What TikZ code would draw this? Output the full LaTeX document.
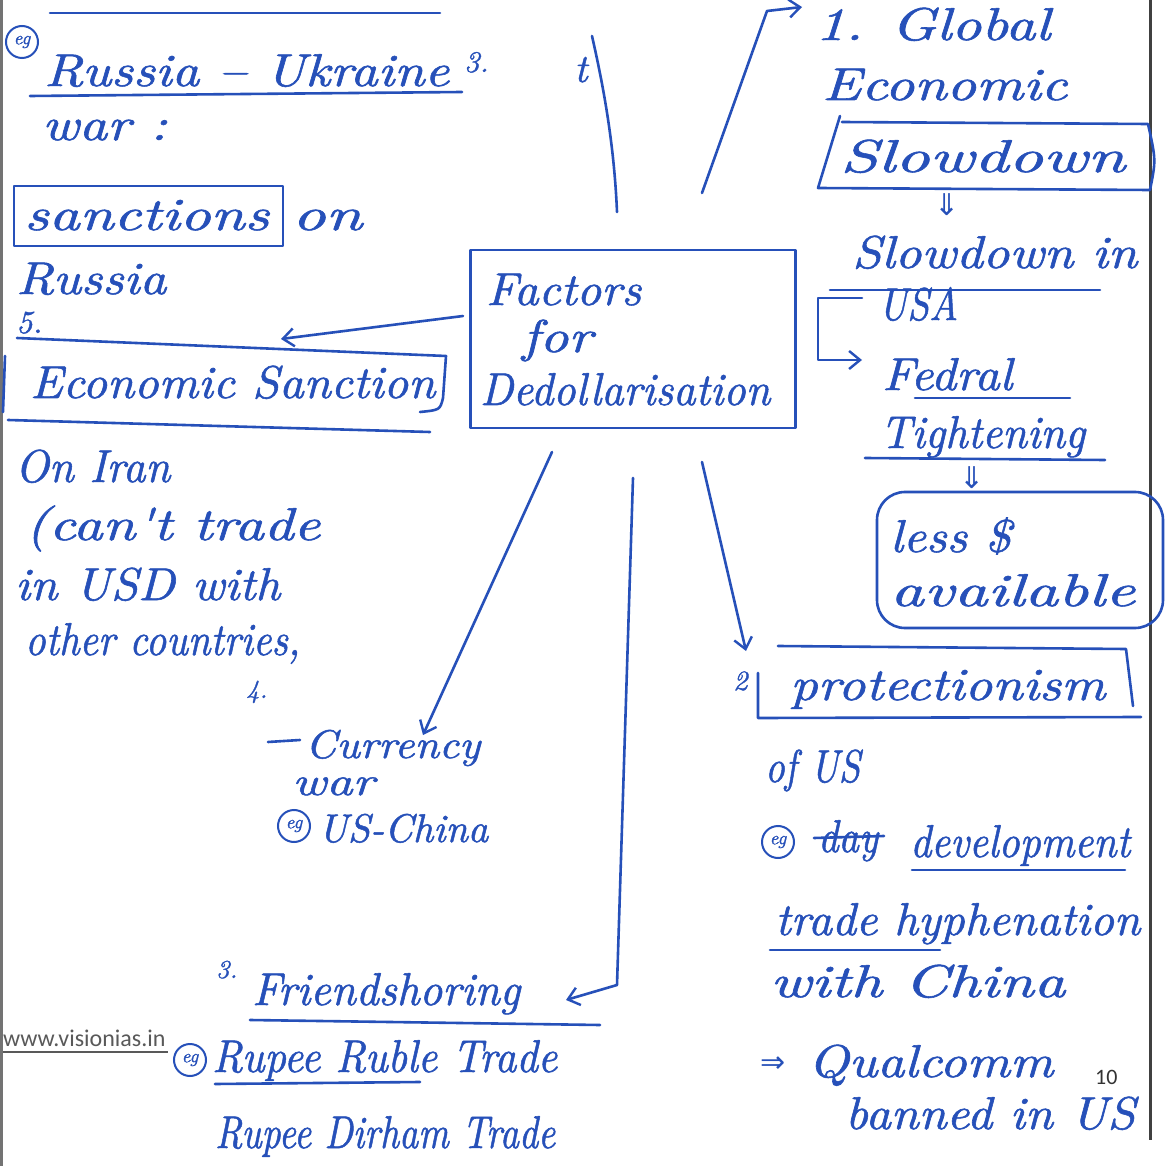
\documentclass[tikz,border=0pt]{standalone}
\usepackage{fontspec}
\usetikzlibrary{arrows.meta}
\newfontfamily\handfont{lmroman10-italic.otf}[FakeBold=1.2]
\newfontfamily\symfont{DejaVu Sans}
\newfontfamily\printfont{Carlito}
\definecolor{ink}{RGB}{38,80,185}
% a handwritten line stretched sideways to a given width, height kept
\newcommand\hw[2]{\resizebox{#1pt}{\height}{#2}}
\newcommand\hs[2]{{\fontsize{#1}{#1}\selectfont #2}}

\begin{document}
\begin{tikzpicture}[x=1pt,y=-1pt,
  pen/.style={draw=ink, line width=2.6pt, line cap=round, line join=round},
  note/.style={text=ink, inner sep=0pt, anchor=base west,
               font=\handfont\fontsize{46}{46}\selectfont},
  small/.style={note, font=\handfont\fontsize{40}{40}\selectfont},
  tip/.style={-{Straight Barb[length=11pt,width=18pt,line width=2.4pt]}},
  egmark/.style={circle, draw=ink, line width=2pt, text=ink, inner sep=0pt,
                 minimum size=32pt, font=\handfont\fontsize{19}{19}\selectfont},
  dbl/.style={text=ink, inner sep=0pt, font=\symfont\fontsize{30}{30}\selectfont},
]
\useasboundingbox (0,0) rectangle (1171,1166);
\fill[white] (0,0) rectangle (1171,1166);

% page edges
\draw[line width=3pt, black!55] (1.5,0) -- (1.5,1166);
\draw[line width=3pt, black!75] (1150,0) -- (1150,1140);

% ---------- centre ----------
\node[pen, minimum width=325pt, minimum height=178pt] (hub) at (633,339) {};
\node[note] (factors) at (486,305) {\hw{155}{Factors}};
\node[note] (for) at (522,352) {\hw{70}{for}};
\node[note] (dedoll) at (480,405) {\hw{290}{Dedollarisation}};

% ---------- top left: Russia-Ukraine war ----------
\draw[pen] (50,13) -- (440,13);
\node[egmark] (eg1) at (22,42) {eg};
\node[note] (ru) at (44,86) {\hw{405}{Russia – Ukraine}};
\draw[pen] (30,96) -- (462,92);
\node[note] (three) at (464,72) {\hs{30}{3.}};
\node[note] (tmark) at (574,82) {\hs{40}{t}};
\node[note] (war) at (42,140) {\hw{125}{war :}};
\draw[pen] (14,186) rectangle (283,246);
\node[note] (sanct) at (24,230) {\hw{245}{sanctions}};
\node[note] (on) at (292,230) {\hw{70}{on}};
\node[note] (russia) at (16,294) {\hw{150}{Russia}};

% ---------- left: 5. Economic sanction ----------
\node[note] (five) at (16,333) {\hs{32}{5.}};
\draw[pen] (17,338) -- (446,356) -- (443,398) .. controls (440,410) .. (420,412);
\draw[pen] (5,356) -- (3,412);
\draw[pen] (8,420) -- (430,432);
\node[note] (econ) at (30,398) {\hw{405}{Economic Sanction}};
\node[note] (iran) at (15,482) {\hw{155}{On Iran}};
\node[note] (cant) at (25,540) {\hw{295}{(can't trade}};
\node[note] (usd) at (15,600) {\hw{265}{in USD with}};
\node[note] (other) at (25,655) {\hw{275}{other countries,}};

% ---------- right: 1. Global economic slowdown ----------
\node[note] (glob) at (815,40) {\hw{235}{1. Global}};
\node[note] (econ2) at (822,100) {\hw{245}{Economic}};
\draw[pen] (840,116) -- (818,188) -- (1150,190) .. controls (1156,160) .. (1148,124) -- (842,122);
\node[note] (slow) at (840,172) {\hw{285}{Slowdown}};
\node[dbl] (dn1) at (947,205) {⇓};
\node[note] (slowin) at (852,268) {\hw{285}{Slowdown in}};
\draw[pen] (830,290) -- (1100,290);
\node[note] (usa) at (878,320) {\hw{80}{USA}};
\draw[pen,tip] (862,298) -- (818,298) -- (818,360) -- (862,360);
\node[note] (fedral) at (882,390) {\hw{130}{Fedral}};
\draw[pen] (915,398) -- (1070,398);
\node[note] (tight) at (880,448) {\hw{205}{Tightening}};
\draw[pen] (865,458) -- (1105,460);
\node[dbl] (dn2) at (972,478) {⇓};
\draw[pen, rounded corners=28pt] (877,492) rectangle (1163,628);
\node[note] (less) at (890,552) {\hw{120}{less \$}};
\node[note] (avail) at (890,606) {\hw{245}{available}};

% ---------- bottom right: 2. protectionism ----------
\node[note] (two) at (733,690) {\hs{28}{2}};
\draw[pen] (778,646) -- (1126,649) -- (1133,706);
\draw[pen] (758,673) -- (758,718) -- (1141,717);
\node[note] (prot) at (790,700) {\hw{315}{protectionism}};
\node[note] (ofus) at (765,782) {\hw{95}{of US}};
\node[egmark] (eg2) at (778,842) {eg};
\node[note] (day) at (818,852) {\hw{60}{day}};
\draw[pen] (814,838) -- (884,836);
\node[note] (devel) at (910,857) {\hw{220}{development}};
\draw[pen] (912,870) -- (1125,870);
\node[note] (trade) at (775,935) {\hw{365}{trade hyphenation}};
\draw[pen] (770,950) -- (940,950);
\node[note] (withc) at (770,997) {\hw{295}{with China}};
\node[dbl, anchor=base west] (imp) at (760,1072) {⇒};
\node[note] (qual) at (808,1077) {\hw{245}{Qualcomm}};
\node[note] (banned) at (845,1129) {\hw{290}{banned in US}};
\node[inner sep=0pt, anchor=base west, font=\printfont\fontsize{22}{22}\selectfont, text=black!80] (pg) at (1095,1084) {10};

% ---------- bottom left: 4. currency war, 3. friendshoring ----------
\node[note] (four) at (246,698) {\hs{26}{4.}};
\draw[pen] (268,742) -- (300,740);
\node[small] (curr) at (305,758) {\hw{175}{Currency}};
\node[small] (warb) at (292,795) {\hw{82}{war}};
\node[egmark] (eg3) at (294,826) {eg};
\node[small] (uschina) at (318,842) {\hw{170}{US-China}};
\node[note] (three2) at (216,978) {\hs{26}{3.}};
\node[note] (friend) at (252,1005) {\hw{268}{Friendshoring}};
\draw[pen] (250,1020) -- (600,1025);
\node[inner sep=0pt, anchor=base west, font=\printfont\fontsize{24}{24}\selectfont, text=black!65] (url) at (3,1046) {www.visionias.in};
\draw[black!65, line width=1.2pt] (3,1052) -- (168,1052);
\node[egmark] (eg4) at (190,1060) {eg};
\node[note] (rrt) at (212,1072) {\hw{345}{Rupee Ruble Trade}};
\draw[pen] (215,1084) -- (420,1082);
\node[note] (rdt) at (215,1148) {\hw{340}{Rupee Dirham Trade}};

% ---------- spokes from the centre ----------
\coordinate (ulA) at (617,212); \coordinate (ulB) at (592,36);
\draw[pen] (ulA) .. controls (614,140) and (602,80) .. (ulB);
\coordinate (urA) at (702,193); \coordinate (urK) at (767,11); \coordinate (urB) at (802,7);
\draw[pen,tip] (urA) -- (urK) -- (urB);
\coordinate (lA) at (463,316); \coordinate (lB) at (281,339);
\draw[pen,tip] (lA) -- (lB);
\coordinate (drA) at (702,462); \coordinate (drB) at (746,651);
\draw[pen,tip] (drA) -- (drB);
\coordinate (dA) at (633,478); \coordinate (dK) at (617,985); \coordinate (dB) at (566,1000);
\draw[pen,tip] (dA) -- (dK) -- (dB);
\coordinate (dlA) at (552,452); \coordinate (dlB) at (423,735);
\draw[pen,tip] (dlA) -- (dlB);
\end{tikzpicture}
\end{document}
